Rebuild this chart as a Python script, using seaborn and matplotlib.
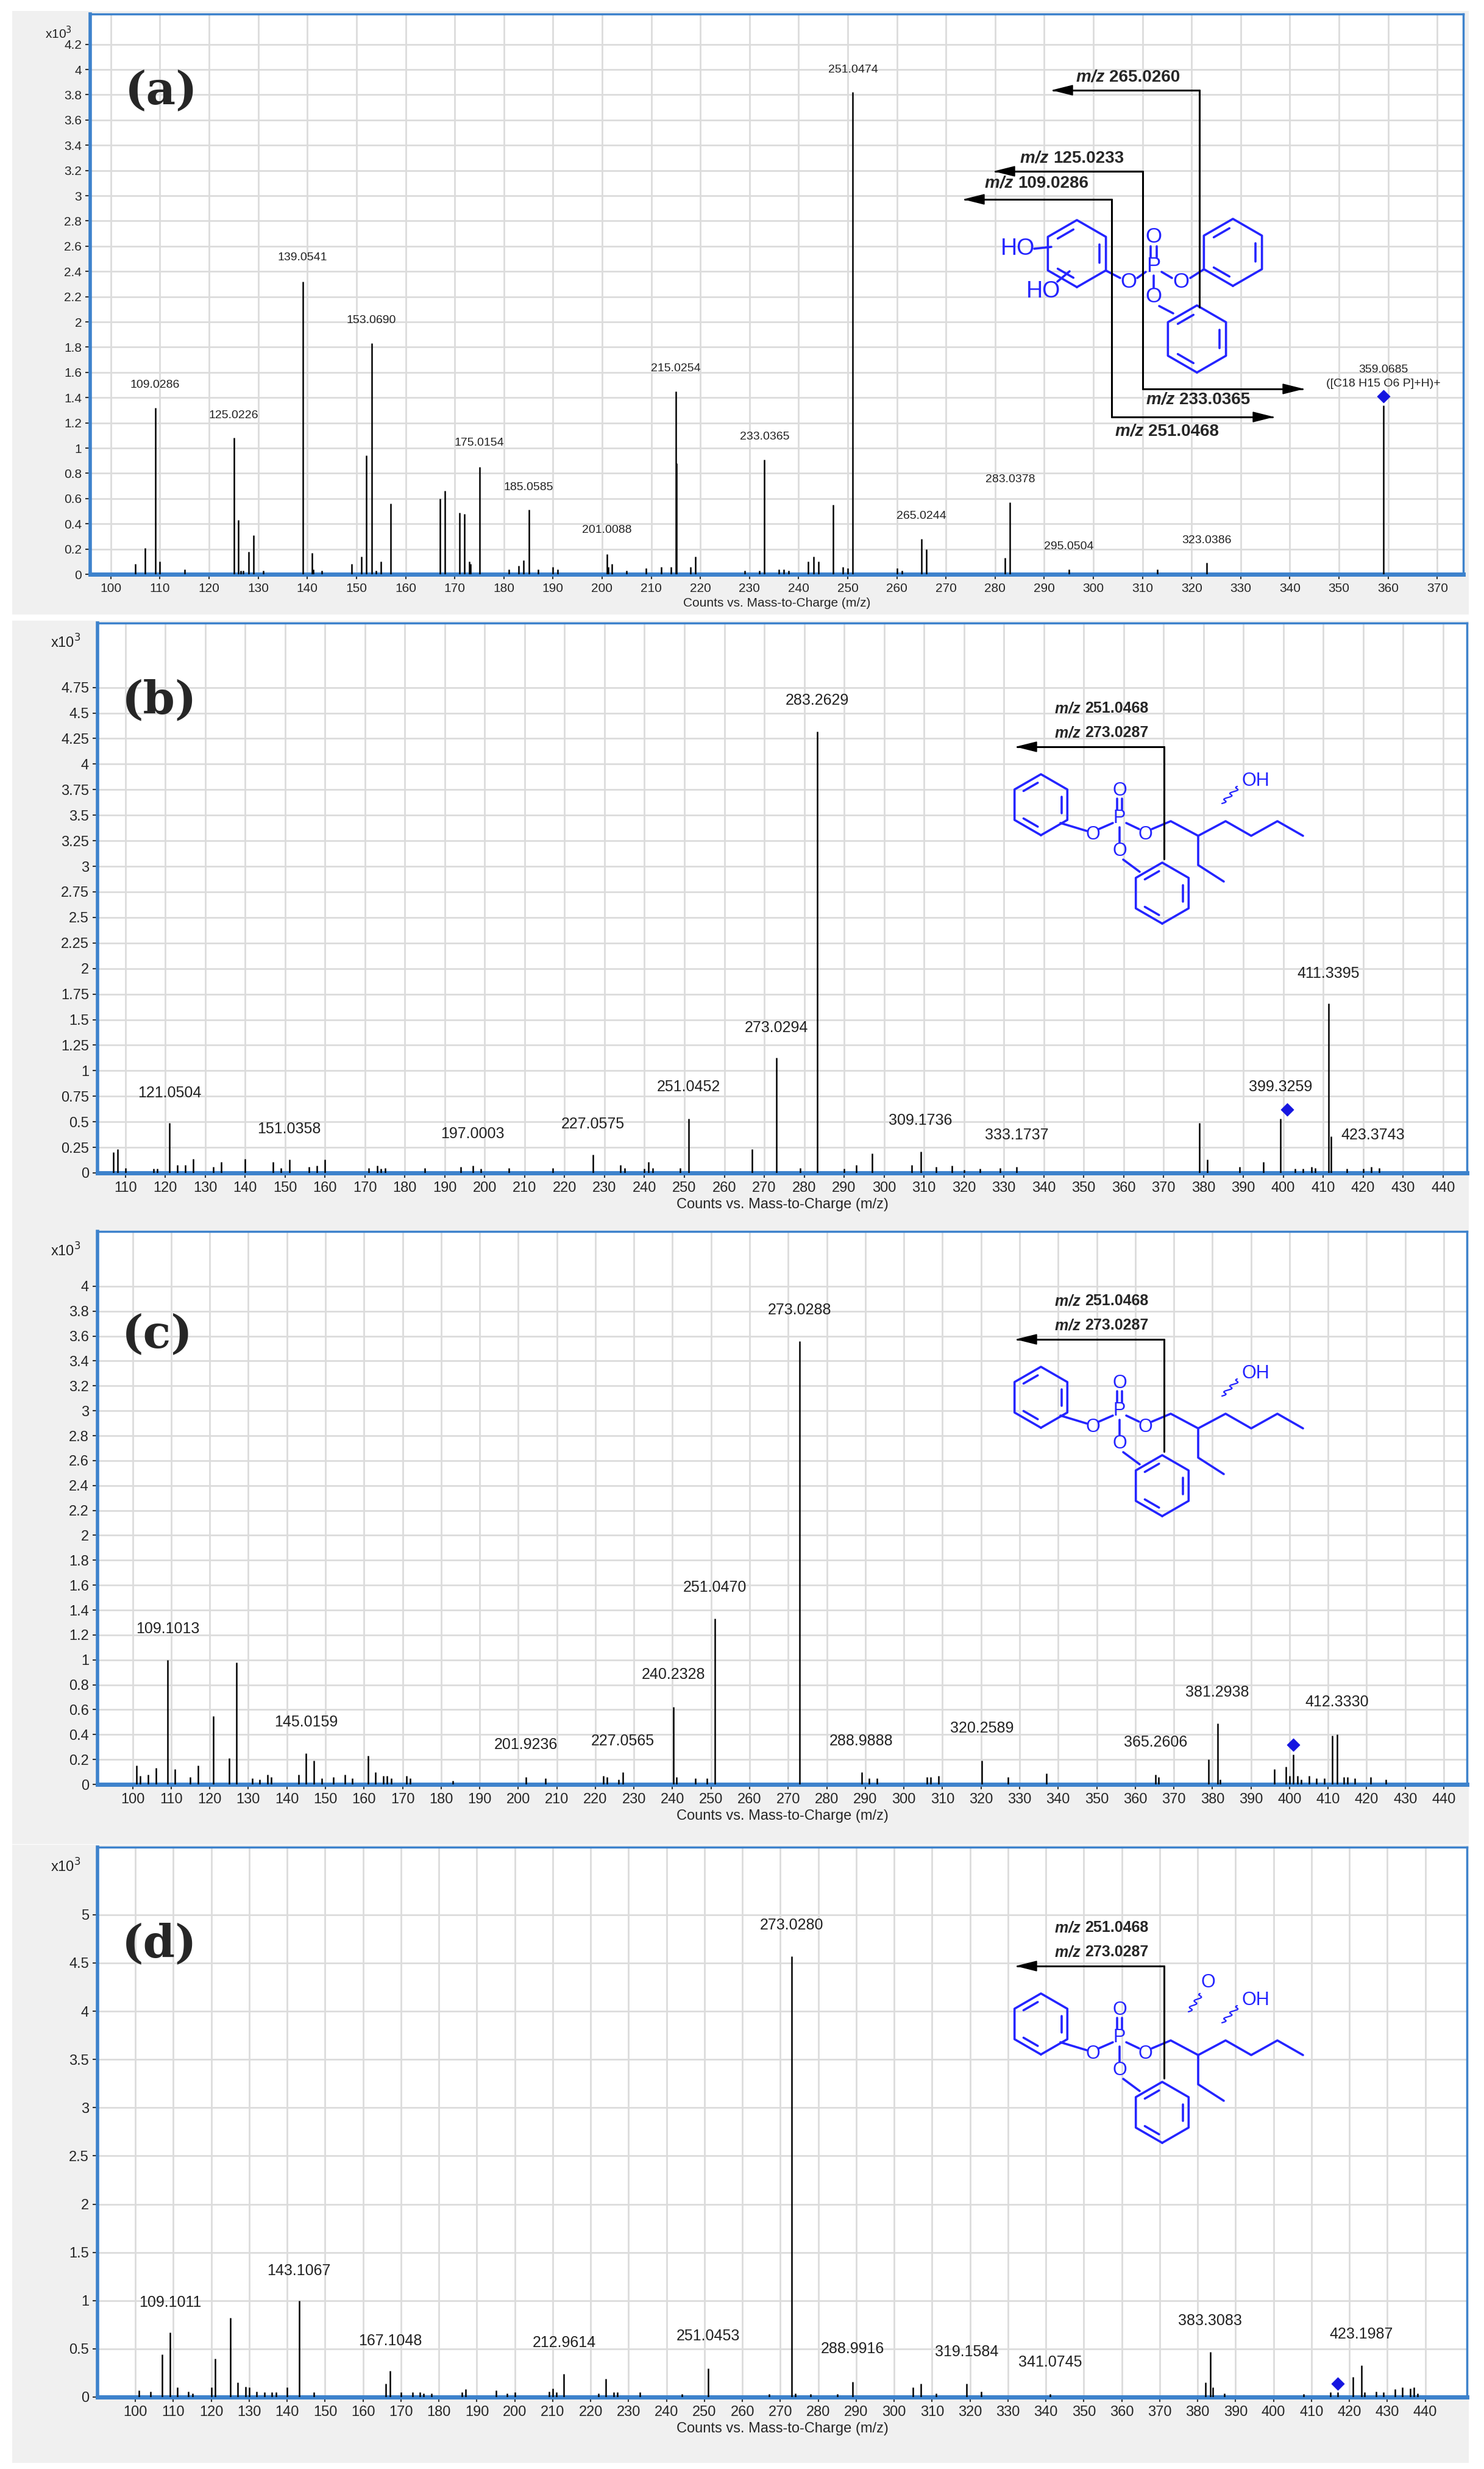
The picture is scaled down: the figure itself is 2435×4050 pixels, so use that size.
import numpy as np
import matplotlib
matplotlib.use("Agg")
import matplotlib.pyplot as plt
import seaborn as sns
from matplotlib.patches import Rectangle, Polygon

sns.set_theme(style="whitegrid")
plt.rcParams['font.family'] = ['Liberation Sans', 'DejaVu Sans']

# ---------------- data ----------------
a_mz = [105, 107, 109.03, 110, 115, 125.02, 126, 126.5, 127, 128, 129, 131, 139.05, 141, 141.2, 143, 149, 151, 152,
        153.07, 154, 155, 157, 167, 168, 171, 172, 173, 173.2, 175.02, 181, 183, 184, 185.06, 187, 190, 191, 201.01,
        201.2, 202, 205, 209, 212, 214, 215.03, 215.2, 218, 219, 229, 232, 233.04, 236, 237, 238, 242, 243, 244, 247,
        249, 250, 251.05, 260, 261, 265.02, 266, 282, 283.04, 295.05, 313, 323.04, 359.07]
a_int = [0.08, 0.21, 1.32, 0.1, 0.04, 1.08, 0.43, 0.03, 0.03, 0.18, 0.31, 0.03, 2.32, 0.17, 0.04, 0.03, 0.08, 0.14, 0.94,
         1.83, 0.03, 0.1, 0.56, 0.6, 0.66, 0.49, 0.48, 0.1, 0.08, 0.85, 0.04, 0.07, 0.11, 0.51, 0.04, 0.06, 0.04, 0.16,
         0.06, 0.08, 0.03, 0.05, 0.06, 0.06, 1.45, 0.88, 0.06, 0.14, 0.03, 0.03, 0.91, 0.04, 0.04, 0.03, 0.1, 0.14, 0.1,
         0.55, 0.06, 0.05, 3.82, 0.05, 0.03, 0.28, 0.2, 0.13, 0.57, 0.04, 0.04, 0.09, 1.34]
a_lab = ["109.0286", "125.0226", "139.0541", "153.0690", "175.0154", "185.0585", "201.0088", "215.0254", "233.0365",
         "251.0474", "265.0244", "283.0378", "295.0504", "323.0386", "359.0685"]
a_lab_x = [109.03, 125.02, 139.05, 153.07, 175.02, 185.06, 201.01, 215.03, 233.04, 251.05, 265.02, 283.04, 295.05,
           323.04, 359.07]
a_lab_y = [1.50, 1.26, 2.51, 2.01, 1.04, 0.69, 0.35, 1.63, 1.09, 4.00, 0.46, 0.75, 0.22, 0.27, 1.62]
a_prec = (359.07, 1.41)

b_mz = [107, 108, 110, 117, 118, 121.05, 123, 125, 127, 132, 134, 140, 147, 149, 151.04, 156, 158, 160, 171, 173, 174,
        175, 185, 194, 197, 199, 206, 217, 227.06, 234, 235, 240, 241, 242, 249, 251.05, 267, 273.03, 279, 283.26, 290,
        293, 297, 307, 309.17, 313, 317, 320, 324, 329, 333.17, 379, 381, 389, 395, 399.33, 403, 405, 407, 408, 411.34,
        412, 416, 420, 422, 424]
b_int = [0.2, 0.23, 0.05, 0.04, 0.04, 0.49, 0.08, 0.08, 0.14, 0.06, 0.11, 0.14, 0.11, 0.05, 0.13, 0.06, 0.07, 0.13, 0.05,
         0.07, 0.04, 0.05, 0.05, 0.06, 0.07, 0.04, 0.05, 0.05, 0.18, 0.08, 0.05, 0.04, 0.11, 0.05, 0.05, 0.53, 0.23, 1.13,
         0.05, 4.32, 0.04, 0.08, 0.19, 0.08, 0.21, 0.06, 0.07, 0.03, 0.04, 0.05, 0.06, 0.49, 0.13, 0.06, 0.11, 0.53, 0.04,
         0.04, 0.06, 0.05, 1.66, 0.36, 0.04, 0.04, 0.06, 0.05]
b_lab = ["121.0504", "151.0358", "197.0003", "227.0575", "251.0452", "273.0294", "283.2629", "309.1736", "333.1737",
         "399.3259", "411.3395", "423.3743"]
b_lab_x = [121.05, 151.04, 197.0, 227.06, 251.05, 273.03, 283.26, 309.17, 333.17, 399.33, 411.34, 422.5]
b_lab_y = [0.78, 0.43, 0.38, 0.48, 0.84, 1.42, 4.62, 0.51, 0.37, 0.84, 1.95, 0.37]
b_prec = (401, 0.62)

c_mz = [101, 102, 104, 106, 109.10, 111, 115, 117, 121, 125, 127, 131, 133, 135, 136, 143, 145.02, 147, 149, 152, 155,
        157, 161, 163, 165, 166, 167, 171, 172, 183, 201.92, 207, 222, 223, 226, 227.06, 240.23, 241, 246, 249, 251.05,
        273.03, 289, 291, 293, 306, 307, 309, 320.26, 327, 337, 365.26, 366, 379, 381.29, 382, 396, 399, 400, 401, 402,
        403, 405, 407, 409, 411, 412.33, 414, 415, 417, 421, 425]
c_int = [0.15, 0.07, 0.08, 0.13, 1.0, 0.12, 0.06, 0.15, 0.55, 0.21, 0.98, 0.05, 0.04, 0.08, 0.06, 0.08, 0.25, 0.19, 0.05,
         0.06, 0.08, 0.05, 0.23, 0.1, 0.07, 0.07, 0.05, 0.07, 0.05, 0.03, 0.06, 0.05, 0.07, 0.06, 0.04, 0.1, 0.62, 0.06,
         0.05, 0.05, 1.33, 3.56, 0.1, 0.05, 0.05, 0.06, 0.06, 0.07, 0.19, 0.06, 0.09, 0.08, 0.06, 0.2, 0.49, 0.04, 0.12,
         0.14, 0.07, 0.24, 0.07, 0.04, 0.07, 0.05, 0.05, 0.39, 0.4, 0.06, 0.06, 0.05, 0.06, 0.04]
c_lab = ["109.1013", "145.0159", "201.9236", "227.0565", "240.2328", "251.0470", "273.0288", "288.9888", "320.2589",
         "365.2606", "381.2938", "412.3330"]
c_lab_x = [109.10, 145.02, 201.92, 227.06, 240.23, 251.05, 273.03, 288.99, 320.26, 365.26, 381.29, 412.33]
c_lab_y = [1.25, 0.50, 0.32, 0.35, 0.88, 1.58, 3.81, 0.35, 0.45, 0.34, 0.74, 0.66]
c_prec = (401, 0.32)

d_mz = [101, 104, 107, 109.10, 111, 114, 115, 120, 121, 125, 127, 129, 130, 132, 134, 136, 137, 140, 143.11, 147, 166,
        167.10, 170, 173, 175, 176, 178, 186, 187, 195, 198, 200, 209, 210, 211, 212.96, 222, 224, 226, 227, 233, 244,
        251.05, 267, 273.03, 274, 278, 285, 289, 305, 307, 311, 319.16, 323, 341.07, 382, 383.31, 384, 387, 408, 415,
        417, 421, 423.20, 424, 427, 429, 432, 434, 436, 437, 438]
d_int = [0.07, 0.06, 0.44, 0.67, 0.1, 0.06, 0.04, 0.1, 0.4, 0.82, 0.15, 0.11, 0.1, 0.06, 0.05, 0.05, 0.05, 0.1, 1.0,
         0.05, 0.14, 0.27, 0.05, 0.05, 0.05, 0.04, 0.04, 0.05, 0.08, 0.07, 0.04, 0.05, 0.06, 0.09, 0.05, 0.24, 0.04,
         0.19, 0.05, 0.05, 0.05, 0.03, 0.3, 0.03, 4.57, 0.04, 0.03, 0.03, 0.16, 0.1, 0.14, 0.04, 0.14, 0.06, 0.03,
         0.15, 0.47, 0.1, 0.04, 0.03, 0.05, 0.05, 0.21, 0.33, 0.05, 0.06, 0.05, 0.08, 0.1, 0.09, 0.1, 0.04]
d_lab = ["109.1011", "143.1067", "167.1048", "212.9614", "251.0453", "273.0280", "288.9916", "319.1584", "341.0745",
         "383.3083", "423.1987"]
d_lab_x = [109.10, 143.11, 167.10, 212.96, 251.05, 273.03, 288.99, 319.16, 341.07, 383.31, 423.20]
d_lab_y = [0.98, 1.31, 0.58, 0.56, 0.63, 4.89, 0.50, 0.47, 0.36, 0.79, 0.65]
d_prec = (417, 0.14)

W, H = 2435, 4050
fig = plt.figure(figsize=(W / 100, H / 100), dpi=100, facecolor='white')
BLUE = '#2424ff'
FRAME = '#3d82cc'


def fx(x):
    return x / W


def fy(y):
    return 1 - y / H


def line(pts, color=BLUE, lw=2.6):
    xs = [fx(p[0]) for p in pts]
    ys = [fy(p[1]) for p in pts]
    fig.add_artist(plt.Line2D(xs, ys, transform=fig.transFigure, color=color, lw=lw, zorder=20))


def text(x, y, s, **kw):
    fig.text(fx(x), fy(y), s, zorder=21, **kw)


def hexagon(cx, cy, r, rot=90, inner=True):
    ang = np.deg2rad(rot + np.arange(7) * 60)
    pts = [(cx + r * np.cos(a), cy + r * np.sin(a)) for a in ang]
    line(pts)
    if inner:
        for i in (0, 2, 4):
            p1 = np.array(pts[i]); p2 = np.array(pts[i + 1]); c = np.array([cx, cy])
            q1 = c + (p1 - c) * 0.78 + (p2 - p1) * 0.12
            q2 = c + (p2 - c) * 0.78 - (p2 - p1) * 0.12
            line([tuple(q1), tuple(q2)])
    return pts


def arrow_h(x1, x2, y):
    fig.add_artist(plt.Line2D([fx(x1), fx(x2)], [fy(y), fy(y)], transform=fig.transFigure, color='black', lw=2.2, zorder=20))
    d = 1 if x2 > x1 else -1
    tri = [(fx(x2), fy(y)), (fx(x2 - d * 32), fy(y - 8)), (fx(x2 - d * 32), fy(y + 8))]
    fig.add_artist(Polygon(tri, closed=True, transform=fig.transFigure, color='black', zorder=20))


def mz_label(x, y, num, size):
    text(x, y, "m/z ", ha='right', va='center', fontsize=size, fontweight='bold', fontstyle='italic')
    text(x, y, num, ha='left', va='center', fontsize=size, fontweight='bold')


def fmt(v):
    return f"{v:.2f}".rstrip('0').rstrip('.')


def panel(rect_px, xlim, ylim, xticks, yticks, mz, inten, labs, lab_x, lab_y, prec, letter, tick_fs, lab_fs,
          grey_px, extra_lab=None):
    l, r, t, b = rect_px
    gl, gr, gt, gb = grey_px
    fig.add_artist(Rectangle((fx(gl), fy(gb)), fx(gr - gl), (gb - gt) / H, transform=fig.transFigure,
                             facecolor='#f0f0f0', edgecolor='none', zorder=0))
    ax = fig.add_axes([fx(l), fy(b), fx(r - l), (b - t) / H])
    ax.set_facecolor('white')
    ax.vlines(mz, 0, inten, color='black', lw=1.8, zorder=3)
    sns.scatterplot(x=[prec[0]], y=[prec[1]], marker='D', color='#1515e0', s=110, ax=ax, zorder=4,
                    edgecolor='#1515e0', legend=False)
    for s_, x_, y_ in zip(labs, lab_x, lab_y):
        ax.text(x_, y_, s_, ha='center', va='center', fontsize=lab_fs, color='#222222', zorder=5)
    if extra_lab:
        ax.text(*extra_lab, ha='center', va='center', fontsize=lab_fs, color='#222222', zorder=5)
    ax.set_xlim(*xlim)
    ax.set_ylim(*ylim)
    ax.set_xticks(xticks)
    ax.set_yticks(yticks)
    ax.set_yticklabels([fmt(v) for v in yticks])
    ax.tick_params(axis='both', labelsize=tick_fs, length=6, width=1.5, color='#333333', pad=4, direction='out',
                   left=True, bottom=True)
    ax.grid(True, color='#dcdcdc', lw=2.0)
    ax.set_axisbelow(True)
    for side in ax.spines:
        ax.spines[side].set_visible(True)
        ax.spines[side].set_color(FRAME)
        ax.spines[side].set_linewidth(2.5)
    ax.spines['left'].set_linewidth(4)
    ax.spines['bottom'].set_linewidth(5)
    ax.set_xlabel("Counts vs. Mass-to-Charge (m/z)", fontsize=tick_fs, labelpad=4)
    ax.set_ylabel("")
    text(l - 52, t + 32, r"x10$^3$", ha='center', va='center', fontsize=tick_fs, color='#222222')
    text(letter[1], letter[2], letter[0], ha='left', va='center', fontsize=54, fontweight='bold',
         family='DejaVu Serif')
    return ax


# Panel (a)
panel((148, 2401, 23, 942), (95.8, 375.3), (0, 4.44), np.arange(100, 371, 10), np.round(np.arange(0, 4.21, 0.2), 2),
      a_mz, a_int, a_lab, a_lab_x, a_lab_y, a_prec,
      ("(a)", 205, 150), 15, 14, (20, 2410, 18, 1008), extra_lab=(359.07, 1.51, "([C18 H15 O6 P]+H)+"))
# Panel (b)
panel((160, 2407, 1022, 1924), (103, 446), (0, 5.38), np.arange(110, 441, 10), np.round(np.arange(0, 4.76, 0.25), 2),
      b_mz, b_int, b_lab, b_lab_x, b_lab_y, b_prec, ("(b)", 200, 1150), 17, 18, (20, 2410, 1018, 2030))
# Panel (c)
panel((160, 2407, 2020, 2927), (90.9, 446), (0, 4.44), np.arange(100, 441, 10), np.round(np.arange(0, 4.01, 0.2), 2),
      c_mz, c_int, c_lab, c_lab_x, c_lab_y, c_prec, ("(c)", 200, 2190), 17, 18, (20, 2410, 2016, 3025))
# Panel (d)
panel((160, 2407, 3030, 3932), (90, 451), (0, 5.7), np.arange(100, 441, 10), np.round(np.arange(0, 5.01, 0.5), 2),
      d_mz, d_int, d_lab, d_lab_x, d_lab_y, d_prec, ("(d)", 200, 3190), 17, 18, (20, 2410, 3026, 4040))

# ---------- structure (a) ----------
R = 55
hexagon(1767, 416, R)
hexagon(2023, 414, R)
hexagon(1964, 556, R)
text(1670, 408, "HO", ha='center', va='center', fontsize=27, color=BLUE)
text(1712, 478, "HO", ha='center', va='center', fontsize=27, color=BLUE)
line([(1697, 408), (1725, 405)])
line([(1735, 462), (1755, 445)])
text(1893, 437, "P", ha='center', va='center', fontsize=25, color=BLUE)
text(1893, 389, "O", ha='center', va='center', fontsize=25, color=BLUE)
text(1852, 463, "O", ha='center', va='center', fontsize=25, color=BLUE)
text(1938, 463, "O", ha='center', va='center', fontsize=25, color=BLUE)
text(1893, 487, "O", ha='center', va='center', fontsize=25, color=BLUE)
line([(1888, 404), (1888, 422)]); line([(1898, 404), (1898, 422)])
line([(1815, 444), (1838, 456)]); line([(1866, 456), (1880, 446)])
line([(1906, 446), (1923, 456)]); line([(1953, 456), (1975, 442)])
line([(1893, 452), (1893, 472)]); line([(1902, 502), (1925, 514)])
# arrows
line([(1968, 504), (1968, 148)], color='black', lw=2.2); arrow_h(1968, 1728, 148)
mz_label(1820, 127, "265.0260", 20)
line([(1875, 638), (1875, 281)], color='black', lw=2.2); arrow_h(1875, 1633, 281); arrow_h(1875, 2137, 638)
mz_label(1728, 260, "125.0233", 20)
mz_label(1935, 656, "233.0365", 20)
line([(1824, 684), (1824, 327)], color='black', lw=2.2); arrow_h(1824, 1583, 327); arrow_h(1824, 2088, 684)
mz_label(1670, 301, "109.0286", 20)
mz_label(1884, 708, "251.0468", 20)


# ---------- structures (b)-(d) ----------
def chain_struct(dy, ketone=False):
    def P(x, y):
        return (x, y + dy)
    hexagon(*P(1708, 1320), 50)
    hexagon(*P(1907, 1465), 50)
    for s_, (x, y) in [("P", (1837, 1342)), ("O", (1837, 1297)), ("O", (1793, 1369)), ("O", (1879, 1369)),
                       ("O", (1837, 1396))]:
        text(*P(x, y), s_, ha='center', va='center', fontsize=22, color=BLUE)
    line([P(1833, 1310), P(1833, 1328)]); line([P(1841, 1310), P(1841, 1328)])
    line([P(1740, 1350), P(1783, 1363)]); line([P(1803, 1360), P(1826, 1350)])
    line([P(1848, 1350), P(1869, 1360)]); line([P(1837, 1357), P(1837, 1382)])
    line([P(1843, 1410), P(1870, 1430)])
    line([P(1890, 1360), P(1921, 1347), P(1966, 1371), P(2011, 1347), P(2053, 1371), P(2096, 1347), P(2138, 1371)])
    line([P(1966, 1371), P(1966, 1419), P(2008, 1446)])
    text(*P(2060, 1281), "OH", ha='center', va='center', fontsize=22, color=BLUE)
    xs = np.linspace(0, 1, 30)
    wav = [P(2005 + 28 * t + 4 * np.sin(t * 18), 1318 - 28 * t) for t in xs]
    line(wav, lw=1.6)
    if ketone:
        text(*P(1982, 1252), "O", ha='center', va='center', fontsize=22, color=BLUE)
        wav2 = [P(1950 + 22 * t + 4 * np.sin(t * 18), 1300 - 30 * t) for t in xs]
        line(wav2, lw=1.6)
    line([P(1910, 1409), P(1910, 1225)], color='black', lw=2.2)
    arrow_h(1910, 1669, 1225 + dy)
    mz_label(1780, 1162 + dy, "251.0468", 18)
    mz_label(1780, 1202 + dy, "273.0287", 18)


chain_struct(0)
chain_struct(2020 - 1022 - 26)
chain_struct(3030 - 1022 - 8, ketone=True)

fig.savefig("out.png", dpi=100, facecolor='white')
